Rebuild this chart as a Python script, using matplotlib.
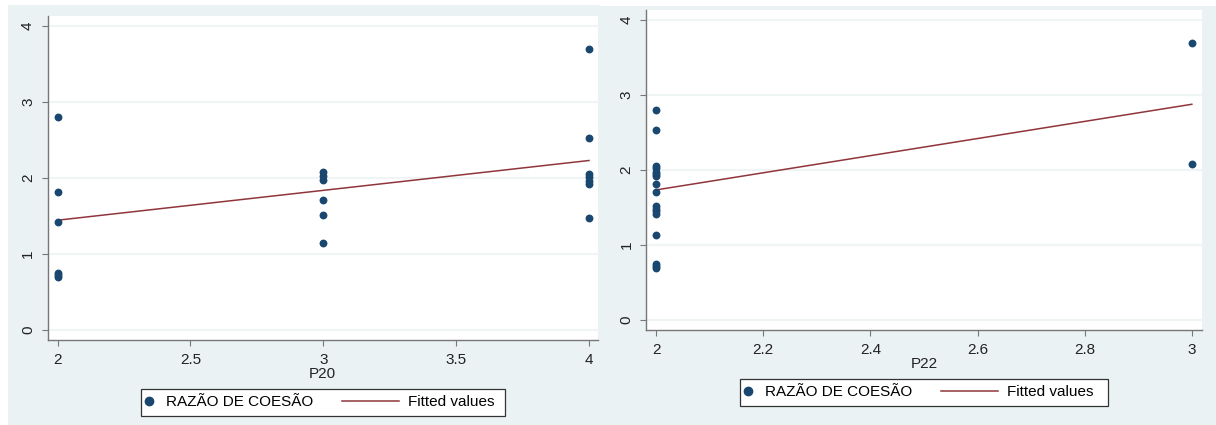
import matplotlib
matplotlib.use("Agg")
import matplotlib.pyplot as plt
from matplotlib.lines import Line2D
from matplotlib.patches import Rectangle

# P20 panel
P20_X = [2, 2, 2, 2, 2, 2,
         3, 3, 3, 3, 3, 3,
         4, 4, 4, 4, 4, 4, 4]
P20_Y = [2.80, 1.81, 1.42, 0.75, 0.72, 0.70,
         2.08, 2.02, 1.98, 1.71, 1.52, 1.14,
         3.69, 2.53, 2.05, 2.01, 1.96, 1.92, 1.48]
P20_FIT_X = [2, 4]
P20_FIT_Y = [1.445, 2.23]
P20_XTICKS = [2, 2.5, 3, 3.5, 4]
P20_XLABELS = ["2", "2.5", "3", "3.5", "4"]

# P22 panel
P22_X = [2] * 17 + [3, 3]
P22_Y = [2.80, 2.53, 2.05, 2.02, 1.98, 1.95, 1.92, 1.81, 1.71,
         1.52, 1.48, 1.45, 1.41, 1.14, 0.75, 0.72, 0.70,
         3.69, 2.08]
P22_FIT_X = [2, 3]
P22_FIT_Y = [1.735, 2.875]
P22_XTICKS = [2, 2.2, 2.4, 2.6, 2.8, 3]
P22_XLABELS = ["2", "2.2", "2.4", "2.6", "2.8", "3"]

YTICKS = [0, 1, 2, 3, 4]

SERIES_LABEL = "RAZÃO DE COESÃO"
FIT_LABEL = "Fitted values"

BG = "#EAF2F3"
NAVY = "#1A476F"
MAROON = "#90353B"
W, H = 1216, 425

plt.rcParams["font.family"] = ["Liberation Sans", "DejaVu Sans"]
plt.rcParams["font.size"] = 11

fig = plt.figure(figsize=(W / 100, H / 100), dpi=100, facecolor="white")


def px_rect(x0, y0, x1, y1):
    """pixel box (top-left origin) -> figure fraction [l, b, w, h]"""
    return [x0 / W, (H - y1) / H, (x1 - x0) / W, (y1 - y0) / H]


# light panel backgrounds
for box in [(8, 5, 600, 425), (600, 6, 1216, 425)]:
    l, b, w, h = px_rect(*box)
    fig.add_artist(Rectangle((l, b), w, h, transform=fig.transFigure,
                             facecolor=BG, edgecolor="none", zorder=0))


def panel(rect, xs, ys, fx, fy, xticks, xlabels, xlim, xlabel):
    ax = fig.add_axes(px_rect(*rect))
    ax.set_facecolor("white")
    ax.scatter(xs, ys, s=32, color=NAVY, zorder=3, linewidths=0)
    ax.plot(fx, fy, color=MAROON, lw=1.1, zorder=2)
    ax.set_xlim(*xlim)
    ax.set_ylim(-0.13, 4.13)
    ax.set_xticks(xticks, xlabels)
    ax.set_yticks(YTICKS)
    ax.tick_params(axis="y", labelrotation=90)
    for lab in ax.get_yticklabels():
        lab.set_verticalalignment("center")
    ax.tick_params(direction="out", length=4, width=0.8, color="#777777",
                   labelcolor="#222222", labelsize=11, pad=5)
    ax.grid(axis="y", color="#EFF4F5", lw=1.5)
    ax.set_axisbelow(True)
    for s in ["top", "right"]:
        ax.spines[s].set_visible(False)
    for s in ["left", "bottom"]:
        ax.spines[s].set_color("#777777")
        ax.spines[s].set_linewidth(1.0)
    ax.set_xlabel(xlabel, fontsize=11, labelpad=0, color="#222222")
    return ax


panel((47.5, 16, 598, 340), P20_X, P20_Y, P20_FIT_X, P20_FIT_Y,
      P20_XTICKS, P20_XLABELS, (1.962, 4.034), "P20")
panel((646, 10, 1202, 330), P22_X, P22_Y, P22_FIT_X, P22_FIT_Y,
      P22_XTICKS, P22_XLABELS, (1.981, 3.019), "P22")


def legend_box(x0, y0, x1, y1):
    l, b, w, h = px_rect(x0, y0, x1, y1)
    fig.add_artist(Rectangle((l, b), w, h, transform=fig.transFigure,
                             facecolor="white", edgecolor="#333333",
                             lw=0.9, zorder=5))
    yc = 1 - (y0 + y1) / 2 / H
    dot = Line2D([], [], marker="o", ls="none", color=NAVY, markersize=6)
    fit = Line2D([], [], color=MAROON, lw=1.1)
    lg1 = fig.legend([dot], [SERIES_LABEL], loc="center left",
                     bbox_to_anchor=((x0 + 1) / W, yc), frameon=False,
                     handlelength=0.92, handletextpad=0.62, borderpad=0,
                     borderaxespad=0, fontsize=11)
    lg2 = fig.legend([fit], [FIT_LABEL], loc="center left",
                     bbox_to_anchor=((x0 + 201) / W, yc), frameon=False,
                     handlelength=3.7, handletextpad=0.65, borderpad=0,
                     borderaxespad=0, fontsize=11)
    lg1.set_zorder(6)
    lg2.set_zorder(6)


legend_box(141, 389, 505, 416)
legend_box(740, 379, 1108, 406)

fig.savefig("out.png", dpi=100, facecolor="white")
